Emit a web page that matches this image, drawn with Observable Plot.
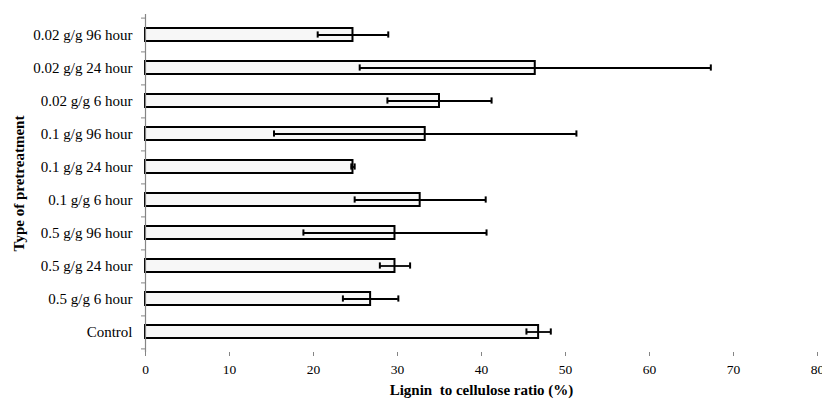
<!DOCTYPE html>
<html>
<head>
<meta charset="utf-8">
<script src="https://cdn.jsdelivr.net/npm/d3@7"></script>
<script src="https://cdn.jsdelivr.net/npm/@observablehq/plot@0.6"></script>
<style>
  html, body { margin: 0; padding: 0; background: #fff; }
  #chart svg { display: block; }
</style>
</head>
<body>
<div id="chart"></div>
<script>
// Pretreatment groups, listed top to bottom
const categories = [
  "0.02 g/g 96 hour", "0.02 g/g 24 hour", "0.02 g/g 6 hour",
  "0.1 g/g 96 hour", "0.1 g/g 24 hour", "0.1 g/g 6 hour",
  "0.5 g/g 96 hour", "0.5 g/g 24 hour", "0.5 g/g 6 hour",
  "Control"
];
// Mean lignin to cellulose ratio (%) and standard deviation
const means = [24.7, 46.4, 35.0, 33.3, 24.7, 32.7, 29.7, 29.7, 26.8, 46.8];
const sds   = [4.2, 20.9, 6.2, 18.0, 0.2, 7.8, 10.9, 1.8, 3.3, 1.45];
const xTicks = [0, 10, 20, 30, 40, 50, 60, 70, 80];

const rows = categories.map((c, i) => ({group: c, mean: means[i], sd: sds[i]}));

const W = 822, H = 400;
const mTop = 14, mBottom = 48, mLeft = 145, mRight = 5;
const step = (H - mTop - mBottom) / categories.length;
const axisGray = "#858585";
const font = "'Liberation Serif', 'Times New Roman', serif";

const chart = Plot.plot({
  width: W,
  height: H,
  marginTop: mTop,
  marginBottom: mBottom,
  marginLeft: mLeft,
  marginRight: mRight,
  style: {fontFamily: font, fontSize: "15px", color: "#000", background: "#fff", overflow: "visible"},
  x: {domain: [0, 80]},
  y: {domain: categories, padding: 0},
  marks: [
    // bars
    Plot.barX(rows, {
      x: "mean", y: "group",
      fill: "#f7f7f7", stroke: "#000", strokeWidth: 2,
      insetTop: 10, insetBottom: 10
    }),
    // error whiskers
    Plot.ruleY(rows, {
      y: "group", x1: d => d.mean - d.sd, x2: d => d.mean + d.sd,
      stroke: "#000", strokeWidth: 1.8
    }),
    Plot.tickX(rows, {
      x: d => d.mean - d.sd, y: "group",
      stroke: "#000", strokeWidth: 2, insetTop: (step - 7) / 2, insetBottom: (step - 7) / 2
    }),
    Plot.tickX(rows, {
      x: d => d.mean + d.sd, y: "group",
      stroke: "#000", strokeWidth: 2, insetTop: (step - 7) / 2, insetBottom: (step - 7) / 2
    }),
    // axis lines
    Plot.ruleX([0], {stroke: axisGray, strokeWidth: 1.2}),
    Plot.ruleY([0], {stroke: axisGray, strokeWidth: 1.2}),
    // x axis
    Plot.axisX({
      ticks: xTicks, tickSize: 4, tickPadding: 8, stroke: axisGray, fontSize: 13.5,
      label: "Lignin  to cellulose ratio (%)", labelAnchor: "center", labelArrow: "none",
      labelOffset: 42
    }),
    // y axis: tick marks on band boundaries
    Plot.axisY({ticks: categories, tickSize: 4, text: null, label: null, dy: step / 2, stroke: axisGray}),
    Plot.axisY({ticks: [categories[0]], tickSize: 4, text: null, label: null, dy: -step / 2, stroke: axisGray}),
    // y axis: category labels
    Plot.axisY({
      ticks: categories, tickSize: 0, tickPadding: 13,
      label: "Type of pretreatment", labelAnchor: "center", labelArrow: "none", labelOffset: 132
    })
  ]
});

// bold axis titles
d3.select(chart).selectAll("g[aria-label='x-axis label'] text, g[aria-label='y-axis label'] text")
  .attr("font-weight", "bold")
  .attr("font-size", 15);

document.getElementById("chart").appendChild(chart);
</script>
</body>
</html>
